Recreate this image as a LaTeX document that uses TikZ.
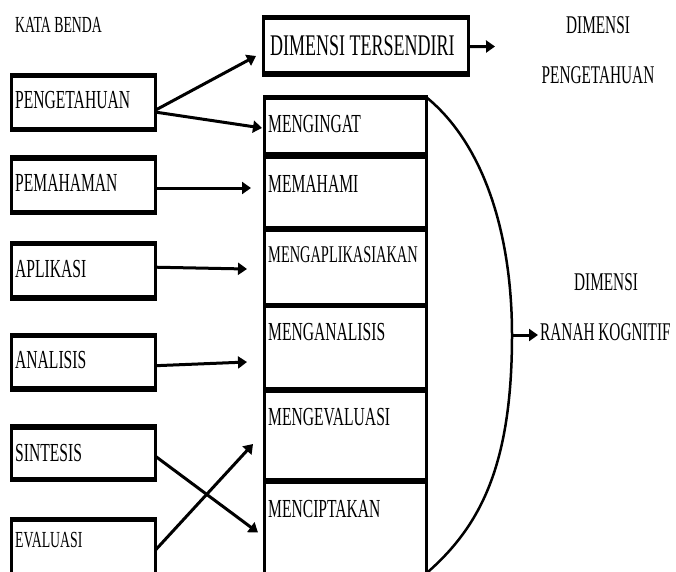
\documentclass[tikz,border=0pt]{standalone}
\usepackage{fontspec}
\setmainfont{Liberation Serif}[FakeStretch=0.6]
\usetikzlibrary{arrows.meta,calc}
\begin{document}
\begin{tikzpicture}[x=1pt,y=-1pt,
  box/.style={draw, line width=3pt, inner sep=0pt, outer sep=0pt},
  hedge/.style={line width=5.5pt, shorten <=-1.5pt, shorten >=-1.5pt},
  txt/.style={anchor=base west, inner sep=0pt, font=\fontsize{26}{30}\selectfont},
  smalltxt/.style={anchor=base west, inner sep=0pt, font=\fontsize{23}{27}\selectfont},
  ctxt/.style={anchor=base, inner sep=0pt, font=\fontsize{25.5}{30}\selectfont},
  arr/.style={line width=3pt, -{Triangle[length=9pt,width=12pt]}},
  curve/.style={line width=2.5pt}
]
\useasboundingbox[fill=white] (0,0) rectangle (676,571);
\clip (0,0) rectangle (676,571);

% left column
\node[smalltxt] (kata) at (15,32) {KATA BENDA};
\node[box, minimum width=144pt, minimum height=54pt] (b1) at (83.5,102.6) {};
\node[box, minimum width=144pt, minimum height=54.5pt] (b2) at (83.5,185.2) {};
\node[box, minimum width=144pt, minimum height=54.5pt] (b3) at (83.5,270.7) {};
\node[box, minimum width=144pt, minimum height=53.5pt] (b4) at (83.5,362.2) {};
\node[box, minimum width=144pt, minimum height=52.7pt] (b5) at (83.5,453.3) {};
\node[box, minimum width=144pt, minimum height=58pt] (b6) at (83.5,548.7) {};
\foreach \n in {b1,b2,b3,b4,b5,b6}{
  \draw[hedge] (\n.north west) -- (\n.north east);
  \draw[hedge] (\n.south west) -- (\n.south east);
}
\node[txt] (t1) at (15,108) {PENGETAHUAN};
\node[txt] (t2) at (15,191) {PEMAHAMAN};
\node[txt] (t3) at (15,277) {APLIKASI};
\node[txt] (t4) at (15,368) {ANALISIS};
\node[txt] (t5) at (15,461) {SINTESIS};
\node[smalltxt] (t6) at (15,547) {EVALUASI};

% central column
\node[box, minimum width=205pt, minimum height=56.5pt] (dt) at (365.8,45.75) {};
\draw[hedge] (dt.north west) -- (dt.north east);
\draw[hedge] (dt.south west) -- (dt.south east);
\node[anchor=base west, inner sep=0pt, font=\fontsize{30}{34}\selectfont] (dtt) at (270,55) {DIMENSI TERSENDIRI};

\node[box, minimum width=162.2pt, minimum height=58pt]   (c1) at (345.6,126.5) {};
\node[box, minimum width=162.2pt, minimum height=73.5pt] (c2) at (345.6,192.25) {};
\node[box, minimum width=162.2pt, minimum height=76.5pt] (c3) at (345.6,267.25) {};
\node[box, minimum width=162.2pt, minimum height=84.5pt] (c4) at (345.6,347.75) {};
\node[box, minimum width=162.2pt, minimum height=91pt]   (c5) at (345.6,435.5) {};
\node[box, minimum width=162.2pt, minimum height=92pt]   (c6) at (345.6,527) {};
\foreach \n in {c1,c2,c3,c4,c5}{
  \draw[hedge] (\n.north west) -- (\n.north east);
  \draw[hedge] (\n.south west) -- (\n.south east);
}
\draw[line width=7.5pt, shorten <=-1.5pt, shorten >=-1.5pt] (c1.south west) -- (c1.south east);

\node[txt] (m1) at (268,132) {MENGINGAT};
\node[txt] (m2) at (268,192) {MEMAHAMI};
\node[anchor=base west, inner sep=0pt, font=\fontsize{24}{28}\selectfont] (m3) at (268,262) {MENGAPLIKASIAKAN};
\node[txt] (m4) at (268,340) {MENGANALISIS};
\node[txt] (m5) at (268,425) {MENGEVALUASI};
\node[txt] (m6) at (268,517) {MENCIPTAKAN};

% right column
\node[ctxt] (r1) at (598,33) {DIMENSI};
\node[ctxt] (r2) at (598,83) {PENGETAHUAN};
\node[ctxt] (r3) at (606,290) {DIMENSI};
\node[anchor=base west, inner sep=0pt, font=\fontsize{25.5}{30}\selectfont] (r4) at (540,340) {RANAH KOGNITIF};

% tip coordinates
\coordinate (tipA) at (256,56);
\coordinate (tipB) at (262,128);
\coordinate (tipC) at (251,188);
\coordinate (tipD) at (247,269);
\coordinate (tipE) at (247,362);
\coordinate (tipF) at (258,532.5);
\coordinate (tipG) at (253,444);
\coordinate (tipH) at (495,46.5);
\coordinate (apex) at (512,335);
\coordinate (tipR) at (538,335);

% connectors
\draw[arr] ($(b1.east)+(0,7.5)$) -- (tipA);
\draw[arr] ($(b1.east)+(0,9.5)$) -- (tipB);
\draw[arr] ($(b2.east)+(0,2.8)$) -- (tipC);
\draw[arr] ($(b3.east)+(0,-3.5)$) -- (tipD);
\draw[arr] ($(b4.east)+(0,3.5)$) -- (tipE);
\draw[arr] ($(b5.east)+(0,3)$) -- (tipF);
\draw[arr] ($(b6.east)+(0,1.3)$) -- (tipG);
\draw[arr] ($(dt.east)+(0,0.8)$) -- (tipH);

\draw[curve] (c1.north east) .. controls (484.5,145) and (512,235) .. (apex)
  .. controls (512,465) and (480.6,526) .. (c6.south east);
\draw[arr] (apex) -- (tipR);
\end{tikzpicture}
\end{document}
